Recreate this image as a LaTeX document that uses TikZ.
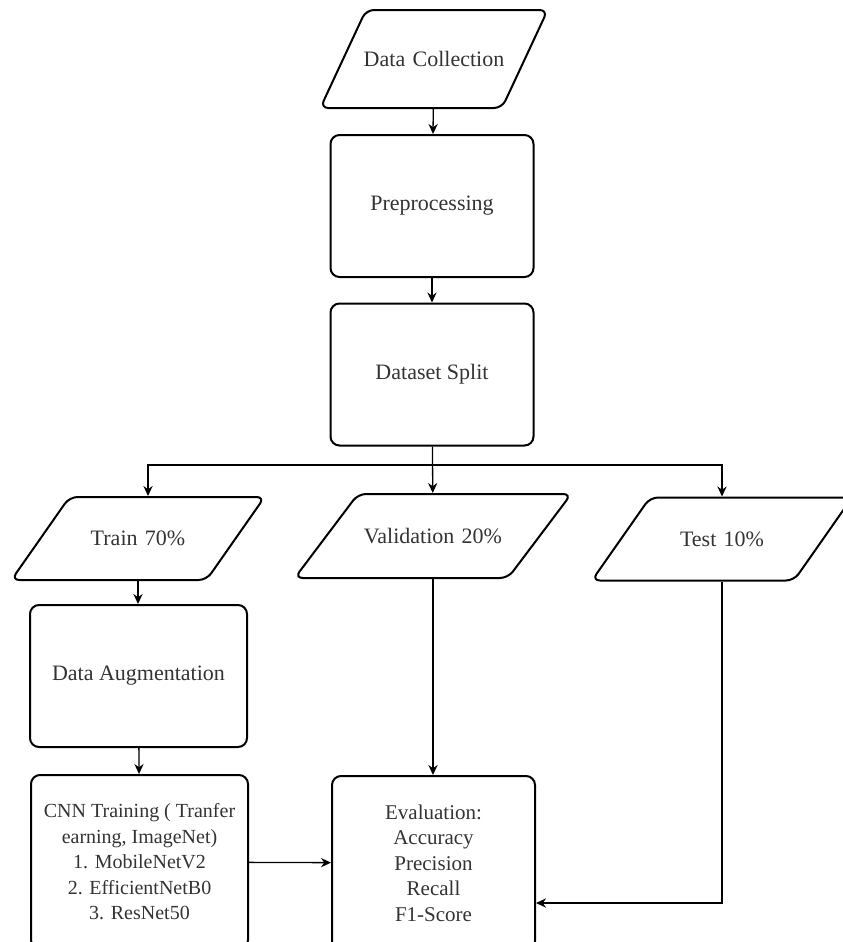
\documentclass[tikz,border=0pt]{standalone}
\usepackage{fontspec}
\setmainfont{Liberation Serif}
\usetikzlibrary{shapes.geometric,arrows.meta,positioning}

\begin{document}
\begin{tikzpicture}[x=0.5pt,y=-0.5pt]
		\tikzset{every node/.style={font=\fontsize{11}{12.75}\selectfont,text=black!80,align=center}}
		\tikzset{procbox/.style={draw,line width=1pt,rounded corners=4.5pt,minimum width=101.5pt,minimum height=71pt,inner sep=2pt}}
		\tikzset{iobox/.style={draw,line width=1pt,rounded corners=4pt,trapezium,trapezium left angle=55,trapezium right angle=125,inner sep=0pt,text height=24.35pt,text depth=17.15pt}}
		\tikzset{flow/.style={line width=0.65pt,-{Stealth[length=5pt,width=4.6pt]}}}
		\useasboundingbox (0,0) rectangle (842,942);
		\node[iobox,trapezium left angle=65,trapezium right angle=115,text width=68pt,text height=28.1pt,text depth=20.9pt] (collect) at (434,59) {\makebox[\linewidth]{Data Collection}};
		\node[procbox] (prep) at (432,206) {Preprocessing};
		\node[procbox] (split) at (432,374.5) {Dataset Split};
		\node[iobox,text width=68.5pt] (train) at (138,538.5) {Train 70\%};
		\node[iobox,trapezium left angle=53,trapezium right angle=127,text width=75pt,text height=24.6pt,text depth=17.4pt] (valid) at (433,536) {Validation 20\%};
		\node[iobox,text width=72pt] (test) at (722,539) {Test 10\%};
		\node[procbox,minimum width=108.5pt] (aug) at (138.5,676) {Data Augmentation};
		\node[procbox,minimum width=108.5pt,minimum height=87pt,font=\fontsize{10}{12.75}\selectfont] (cnn) at (139.5,862) {CNN Training ( Tranfer\\earning, ImageNet)\\1. MobileNetV2\\2. EfficientNetB0\\3. ResNet50};
		\node[procbox,minimum height=87pt,font=\fontsize{10.5}{12.75}\selectfont] (eval) at (433.5,863) {Evaluation:\\Accuracy\\Precision\\Recall\\F1-Score};
		\coordinate (fork) at (432,465);
		\draw[flow] (collect) -- (prep);
		\draw[flow] (prep) -- (split);
		\draw[flow] (split) -- (valid);
		\draw[flow] (fork) -| ([xshift=5pt]train.north);
		\draw[flow] (fork) -| (test.north);
		\draw[flow] (train.south) -- (aug.north -| train.south);
		\draw[flow] (aug) -- (cnn);
		\draw[flow] (cnn) -- (eval);
		\draw[flow] (valid.south) -- (eval.north -| valid.south);
		\draw[flow] (test.south) |- ([yshift=-20pt]eval.east);
\end{tikzpicture}
\end{document}
